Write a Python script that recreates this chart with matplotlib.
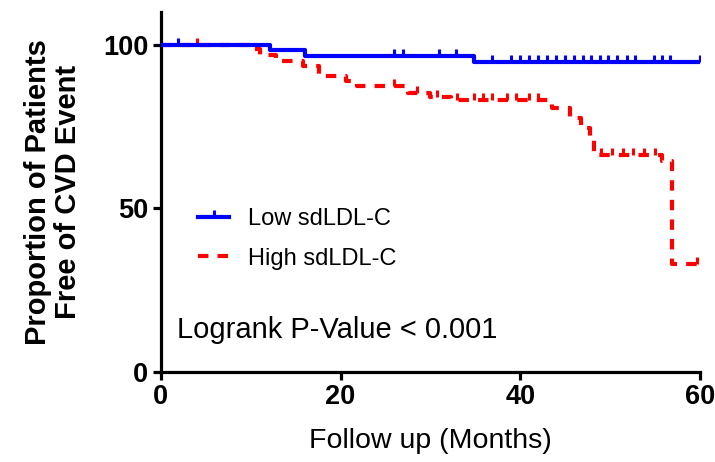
import matplotlib.pyplot as plt
from matplotlib.lines import Line2D

plt.rcParams['font.family'] = ['Liberation Sans', 'DejaVu Sans']

# Kaplan-Meier steps: (time in months, % event-free after the step)
low_times = [0, 12.1, 16.0, 34.8, 60]
low_surv = [100, 98.3, 96.6, 94.8, 94.8]
low_censor = [1.9, 25.9, 26.9, 30.9, 32.8, 36.8, 39, 40, 41, 42, 43, 44, 45,
              46, 47, 47.9, 48.9, 49.8, 50.8, 51.9, 52.8, 54.9, 55.8, 56.7, 60]

high_times = [0, 9.8, 11.0, 12.8, 15.8, 17.6, 20.6, 21.8, 27.5, 30.0, 32.3,
              43.5, 45.5, 46.8, 47.8, 48.2, 55.8, 56.9, 60]
high_surv = [100, 98.8, 96.9, 95.1, 93.6, 90.5, 89.0, 87.4, 85.2, 84.0, 83.0,
             80.6, 77.5, 74.5, 72.0, 66.2, 64.5, 33.0, 33.0]
high_censor = [4.0, 26.0, 28.5, 30.7, 33.0, 34.8, 35.8, 36.8, 38.5, 39.5,
               41.0, 42.0, 49.0, 50.2, 51.4, 52.6, 53.8, 55.0, 59.7]


def surv_at(times, surv, t):
    s = surv[0]
    for ti, si in zip(times, surv):
        if ti <= t:
            s = si
    return s


# upward tick used for censored observations
tick = [(0, 0), (0, 1)]

fig = plt.figure(figsize=(7.15, 4.62), dpi=100)
ax = fig.add_axes([0.225, 0.195, 0.754, 0.779])

blue = '#0000ff'
red = '#ff0000'

ax.step(low_times, low_surv, where='post', color=blue, lw=3, zorder=3)
ax.plot(low_censor, [surv_at(low_times, low_surv, t) for t in low_censor],
        ls='none', marker=tick, ms=10, mew=2.2, color=blue, zorder=3)

ax.step(high_times, high_surv, where='post', color=red, lw=3,
        ls=(0, (2.5, 2.2)), zorder=2)
ax.plot(high_censor, [surv_at(high_times, high_surv, t) for t in high_censor],
        ls='none', marker=tick, ms=10, mew=2.2, color=red, zorder=2)

ax.set_xlim(0, 60)
ax.set_ylim(0, 110)
ax.set_xticks([0, 20, 40, 60])
ax.set_yticks([0, 50, 100])
for side in ['top', 'right']:
    ax.spines[side].set_visible(False)
for side in ['left', 'bottom']:
    ax.spines[side].set_linewidth(2.3)
ax.tick_params(width=2.3, length=6, labelsize=19.5, pad=3)
for lbl in ax.get_xticklabels() + ax.get_yticklabels():
    lbl.set_fontweight('bold')

ax.set_xlabel('Follow up (Months)', fontsize=20.5, labelpad=13)
ax.set_ylabel('Proportion of Patients\nFree of CVD Event', fontsize=21,
              fontweight='bold', linespacing=1.1)
ax.yaxis.set_label_coords(-0.146, 0.5)

handles = [
    Line2D([], [], color=blue, lw=3, marker=tick, ms=10, mew=2.2),
    Line2D([], [], color=red, lw=3, ls=(0, (2.5, 2.2))),
]
ax.legend(handles, ['Low sdLDL-C', 'High sdLDL-C'], loc='upper left',
          bbox_to_anchor=(0.03, 0.515), frameon=False, fontsize=17,
          handlelength=1.3, handletextpad=0.8, labelspacing=0.75)

ax.text(0.03, 0.117, 'Logrank P-Value < 0.001', transform=ax.transAxes,
        fontsize=21, va='center', ha='left')

fig.savefig('out.png', dpi=100)
